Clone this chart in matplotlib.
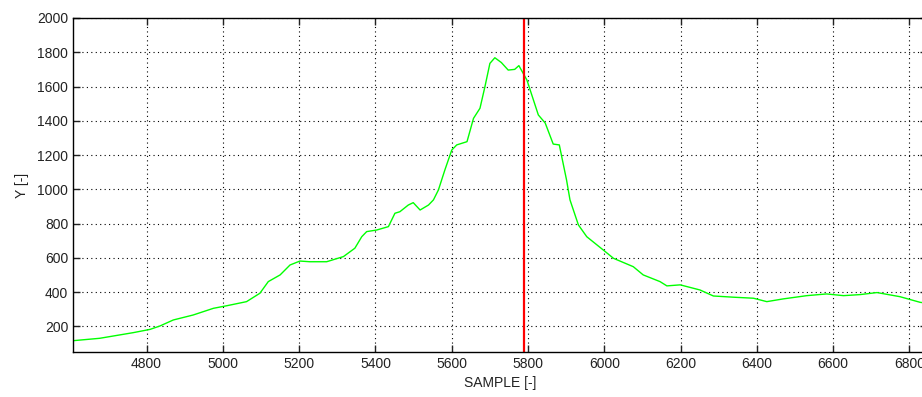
import matplotlib
matplotlib.use("Agg")
import matplotlib.pyplot as plt

# Data
sample = [4607, 4677, 4765, 4809, 4835, 4870, 4922, 4975, 5010, 5062, 5097, 5119,
          5150, 5176, 5202, 5228, 5272, 5316, 5346, 5364, 5377, 5403, 5434, 5451,
          5464, 5486, 5499, 5517, 5539, 5552, 5565, 5582, 5600, 5613, 5640, 5657,
          5674, 5687, 5700, 5713, 5730, 5748, 5765, 5776, 5797, 5827, 5845, 5866,
          5882, 5901, 5910, 5932, 5954, 5997, 6024, 6076, 6102, 6146, 6164, 6199,
          6251, 6286, 6338, 6391, 6426, 6469, 6531, 6583, 6627, 6670, 6715, 6775,
          6828, 6846]
y_val = [116, 130, 163, 182, 202, 237, 266, 305, 320, 344, 393, 461,
         500, 558, 581, 577, 577, 607, 656, 723, 753, 762, 782, 860,
         869, 908, 922, 879, 908, 938, 996, 1113, 1229, 1259, 1278, 1414,
         1473, 1599, 1735, 1768, 1740, 1696, 1700, 1722, 1638, 1434, 1387, 1264,
         1259, 1054, 938, 792, 723, 646, 597, 548, 500, 461, 436, 442,
         412, 377, 370, 364, 344, 360, 379, 389, 379, 385, 397, 373,
         340, 335]
marker_x = 5790

x_ticks = [4800, 5000, 5200, 5400, 5600, 5800, 6000, 6200, 6400, 6600, 6800]
y_ticks = [200, 400, 600, 800, 1000, 1200, 1400, 1600, 1800, 2000]

plt.rcParams['font.family'] = ['Liberation Sans', 'DejaVu Sans']

fig = plt.figure(figsize=(9.22, 3.97), dpi=100)
# axes runs a bit past the right edge of the image, like the reference
ax = fig.add_axes([73 / 922, 1 - 352 / 397, (927 - 73) / 922, (352 - 18) / 397])

ax.plot(sample, y_val, color="#00ff00", linewidth=1.0)
ax.axvline(marker_x, color="red", linewidth=1.6)

ax.set_xlim(4607, 6846)
ax.set_ylim(50, 2000)
ax.set_xticks(x_ticks)
ax.set_yticks(y_ticks)
ax.grid(True, color="black", linestyle=(0, (1, 3)), linewidth=0.8)
ax.tick_params(direction="in", length=5, width=1, top=True, right=True,
               labelsize=10, colors="#222222")
for s in ax.spines.values():
    s.set_linewidth(1.0)

ax.set_xlabel("SAMPLE [-]", fontsize=10, color="#222222", labelpad=4)
ax.set_ylabel("Y [-]", fontsize=10, color="#222222", labelpad=6)

fig.savefig("out.png", dpi=100)
